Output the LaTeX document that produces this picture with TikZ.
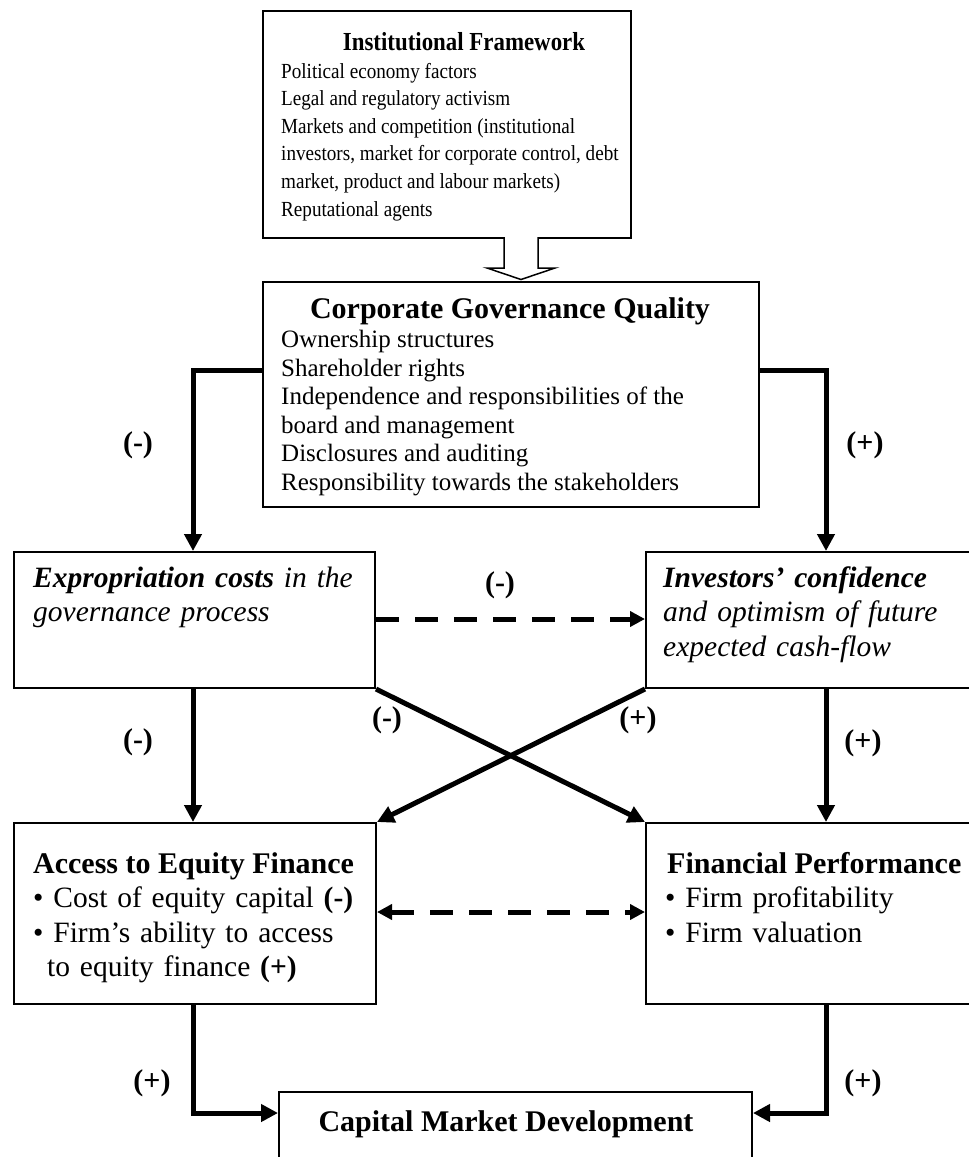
\documentclass[tikz,border=0pt]{standalone}
\usepackage{fontspec}
\setmainfont{Liberation Serif}
\usetikzlibrary{arrows.meta,calc}
\begin{document}
\begin{tikzpicture}[x=1pt,y=-1pt,
  box/.style={draw, line width=2pt, anchor=north west, inner sep=0pt},
  conn/.style={line width=5pt, -{Triangle[length=17pt,width=17pt]}},
  dconn/.style={line width=5pt, dash pattern=on 23pt off 16pt},
  dtip/.style={-{Triangle[length=15pt,width=15pt]}},
  ttl/.style={font=\fontsize{30}{34.5}\selectfont\bfseries, inner sep=0pt, anchor=base},
  bodysm/.style={font=\fontsize{25}{28.5}\selectfont, inner sep=0pt, anchor=base west},
  bodyif/.style={font=\fontsize{21.5}{27.6}\selectfont, inner sep=0pt, anchor=base west},
  bodylg/.style={font=\fontsize{29.5}{34.5}\selectfont, inner sep=0pt, anchor=base west, align=left},
  lbl/.style={font=\fontsize{30}{34.5}\selectfont\bfseries, inner sep=0pt}
]
\useasboundingbox (0,0) rectangle (969,1157);
\clip (0,0) rectangle (969,1157);

% boxes
\node[box, minimum width=368pt, minimum height=227pt] (b1) at (262,10) {};
\node[box, minimum width=496pt, minimum height=225pt] (b2) at (262,281) {};
\node[box, minimum width=361pt, minimum height=136pt] (b3) at (13,551) {};
\node[box, minimum width=350pt, minimum height=136pt] (b4) at (645,551) {};
\node[box, minimum width=362pt, minimum height=181pt] (b5) at (13,822) {};
\node[box, minimum width=350pt, minimum height=181pt] (b6) at (645,822) {};
\node[box, minimum width=473pt, minimum height=90pt] (b7) at (278,1091) {};

% texts
\node[ttl, font=\fontsize{26}{30}\selectfont\bfseries] (t1) at (464,50) {\scalebox{0.88}[1]{Institutional Framework}};
\node[bodyif] (x1) at (281,78) {\scalebox{0.89}[1]{\begin{tabular}[t]{@{}l@{}}Political economy factors\\Legal and regulatory activism\\Markets and competition (institutional\\investors, market for corporate control, debt\\market, product and labour markets)\\Reputational agents\end{tabular}}};

\node[ttl] (t2) at (510,318) {Corporate Governance Quality};
\node[bodysm] (x2) at (281,347.5) {\begin{tabular}[t]{@{}l@{}}Ownership structures\\Shareholder rights\\Independence and responsibilities of the\\board and management\\Disclosures and auditing\\Responsibility towards the stakeholders\end{tabular}};

\node[bodylg, text width=340pt, font=\fontsize{29.5}{34.5}\selectfont\itshape] (x3) at (33,587) {\textbf{Expropriation costs} in the\\governance process};
\node[bodylg, text width=320pt, font=\fontsize{29.5}{34.5}\selectfont\itshape] (x4) at (663,587) {\textbf{Investors’ confidence}\\and optimism of future\\expected cash-flow};

\node[ttl, anchor=base west] (t5) at (33,873) {Access to Equity Finance};
\node[bodylg, text width=345pt] (x5) at (33,907.5) {• Cost of equity capital \textbf{(-)}\\• Firm’s ability to access\\\hspace*{14pt}to equity finance \textbf{(+)}};

\node[ttl, anchor=base west] (t6) at (667,873) {Financial Performance};
\node[bodylg, text width=300pt] (x6) at (665,907.5) {• Firm profitability\\• Firm valuation};

\node[ttl] (t7) at (506,1131) {Capital Market Development};

% hollow arrow
\coordinate (H) at (521,237);
\draw[line width=1.5pt, fill=white]
  ($(H)+(-17,0)$) -- ($(H)+(-17,31)$) -- ($(H)+(-34,31)$)
  -- ($(H)+(0,42.5)$) -- ($(H)+(34,31)$) -- ($(H)+(17,31)$)
  -- ($(H)+(17,0)$);

% connectors
\coordinate (L) at (193,370);
\coordinate (R) at (826,370);
\coordinate (D1) at (0,619);
\coordinate (D2) at (0,912);
\coordinate (B) at (0,1113);

\draw[conn] (b2.west |- L) -| (b3.north -| L);
\draw[conn] (b2.east |- R) -| (b4.north -| R);
\draw[dconn, dtip] (b3.east |- D1) -- (b4.west |- D1);
\draw[conn] (b3.south -| L) -- (b5.north -| L);
\draw[conn] (b4.south -| R) -- (b6.north -| R);
\draw[conn] (b3.south east) -- (b6.north west);
\draw[conn] (b4.south west) -- (b5.north east);
\draw[dconn, {Triangle[length=15pt,width=15pt]}-{Triangle[length=15pt,width=15pt]}] (b5.east |- D2) -- (b6.west |- D2);
\draw[conn] (b5.south -| L) |- (b7.west |- B);
\draw[conn] (b6.south -| R) |- (b7.east |- B);

% labels
\node[lbl] (l1) at (138,445) {(-)};
\node[lbl] (l2) at (865,445) {(+)};
\node[lbl] (l3) at (500,585) {(-)};
\node[lbl] (l4) at (387,720) {(-)};
\node[lbl] (l5) at (638,720) {(+)};
\node[lbl] (l6) at (138,742) {(-)};
\node[lbl] (l7) at (863,743) {(+)};
\node[lbl] (l8) at (152,1083) {(+)};
\node[lbl] (l9) at (863,1083) {(+)};
\end{tikzpicture}
\end{document}
